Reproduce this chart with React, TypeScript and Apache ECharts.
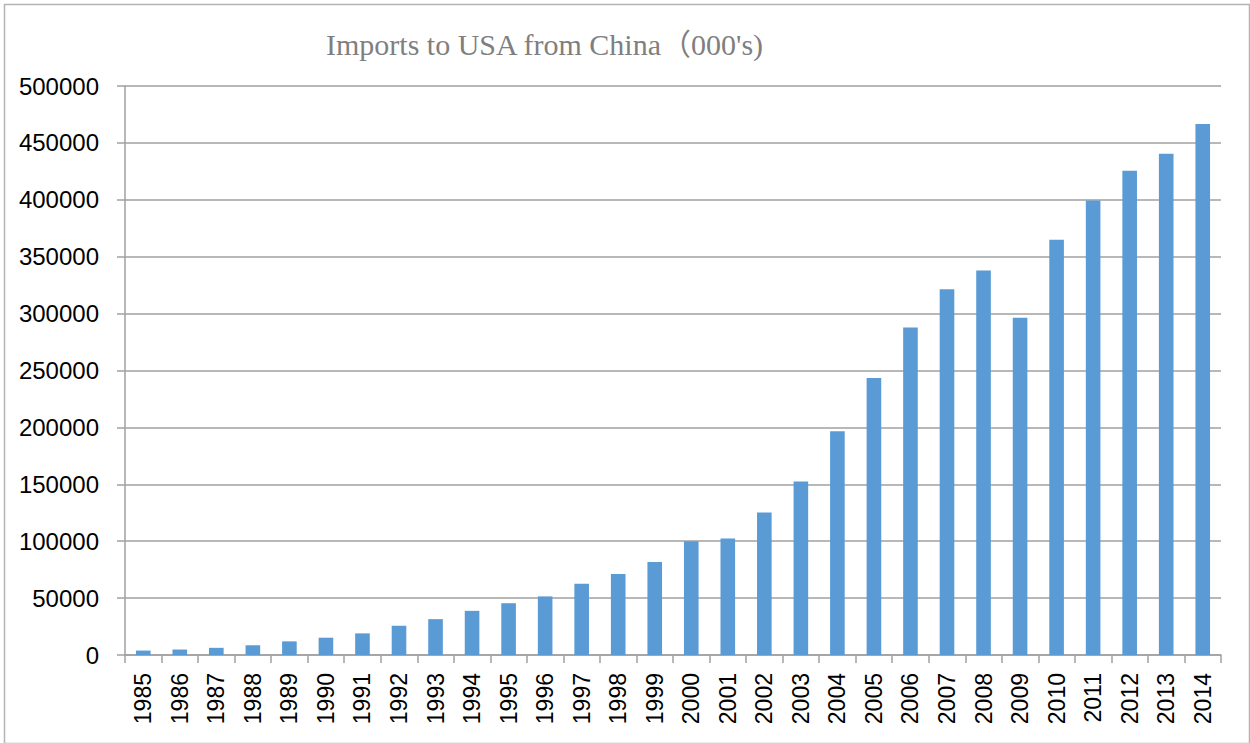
import React, { useEffect, useRef } from "react";
import * as echarts from "echarts";

// Years shown along the category axis
const years: string[] = [
  "1985", "1986", "1987", "1988", "1989", "1990", "1991", "1992", "1993", "1994",
  "1995", "1996", "1997", "1998", "1999", "2000", "2001", "2002", "2003", "2004",
  "2005", "2006", "2007", "2008", "2009", "2010", "2011", "2012", "2013", "2014",
];

// Imports in thousands of US dollars
const imports: number[] = [
  3900, 4800, 6300, 8500, 12000, 15200, 19000, 25700, 31500, 38800,
  45500, 51500, 62600, 71200, 81800, 100000, 102300, 125200, 152400, 196700,
  243500, 287800, 321400, 337800, 296400, 365000, 399300, 425600, 440400, 466700,
];

// Value axis range and step
const yMin = 0;
const yMax = 500000;
const yStep = 50000;

const titleText = "Imports to USA from China（000's)";

export default function App() {
  const ref = useRef<HTMLDivElement>(null);

  useEffect(() => {
    if (!ref.current) return;
    const chart = echarts.init(ref.current, null, { renderer: "svg" });
    const gridColor = "#a0a0a0";
    chart.setOption({
      animation: false,
      backgroundColor: "#ffffff",
      title: {
        text: titleText,
        left: 321,
        top: 24,
        textStyle: {
          fontFamily: "'Liberation Serif', 'Noto Sans CJK JP', serif",
          fontSize: 30,
          fontWeight: "normal",
          color: "#7f7f7f",
        },
      },
      graphic: [
        {
          type: "rect",
          left: 2,
          top: 2,
          shape: { x: 0, y: 0, width: 1245, height: 739 },
          style: { fill: "none", stroke: "#b4b4b4", lineWidth: 1.5 },
          silent: true,
        },
      ],
      grid: { left: 125, right: 29, top: 86, bottom: 88, containLabel: false },
      xAxis: {
        type: "category",
        data: years,
        boundaryGap: true,
        axisLine: { show: true, lineStyle: { color: gridColor, width: 1.5 } },
        axisTick: { show: true, length: 8, alignWithLabel: false, lineStyle: { color: gridColor, width: 1.5 } },
        axisLabel: {
          rotate: 90,
          margin: 18,
          interval: 0,
          fontFamily: "'Liberation Sans', Arial, sans-serif",
          fontSize: 23,
          color: "#000000",
        },
      },
      yAxis: {
        type: "value",
        min: yMin,
        max: yMax,
        interval: yStep,
        axisLine: { show: true, lineStyle: { color: gridColor, width: 1.5 } },
        axisTick: { show: true, length: 8, lineStyle: { color: gridColor, width: 1.5 } },
        axisLabel: {
          margin: 26,
          formatter: (v: number) => String(v),
          fontFamily: "'Liberation Sans', Arial, sans-serif",
          fontSize: 24,
          color: "#000000",
        },
        splitLine: { show: true, lineStyle: { color: gridColor, width: 1.5 } },
      },
      series: [
        {
          type: "bar",
          data: imports,
          barWidth: "40%",
          itemStyle: { color: "#5b9bd5" },
        },
      ],
    });
    return () => chart.dispose();
  }, []);

  return (
    <div
      ref={ref}
      style={{ position: "fixed", left: 0, top: 0, width: 1250, height: 743 }}
    />
  );
}
